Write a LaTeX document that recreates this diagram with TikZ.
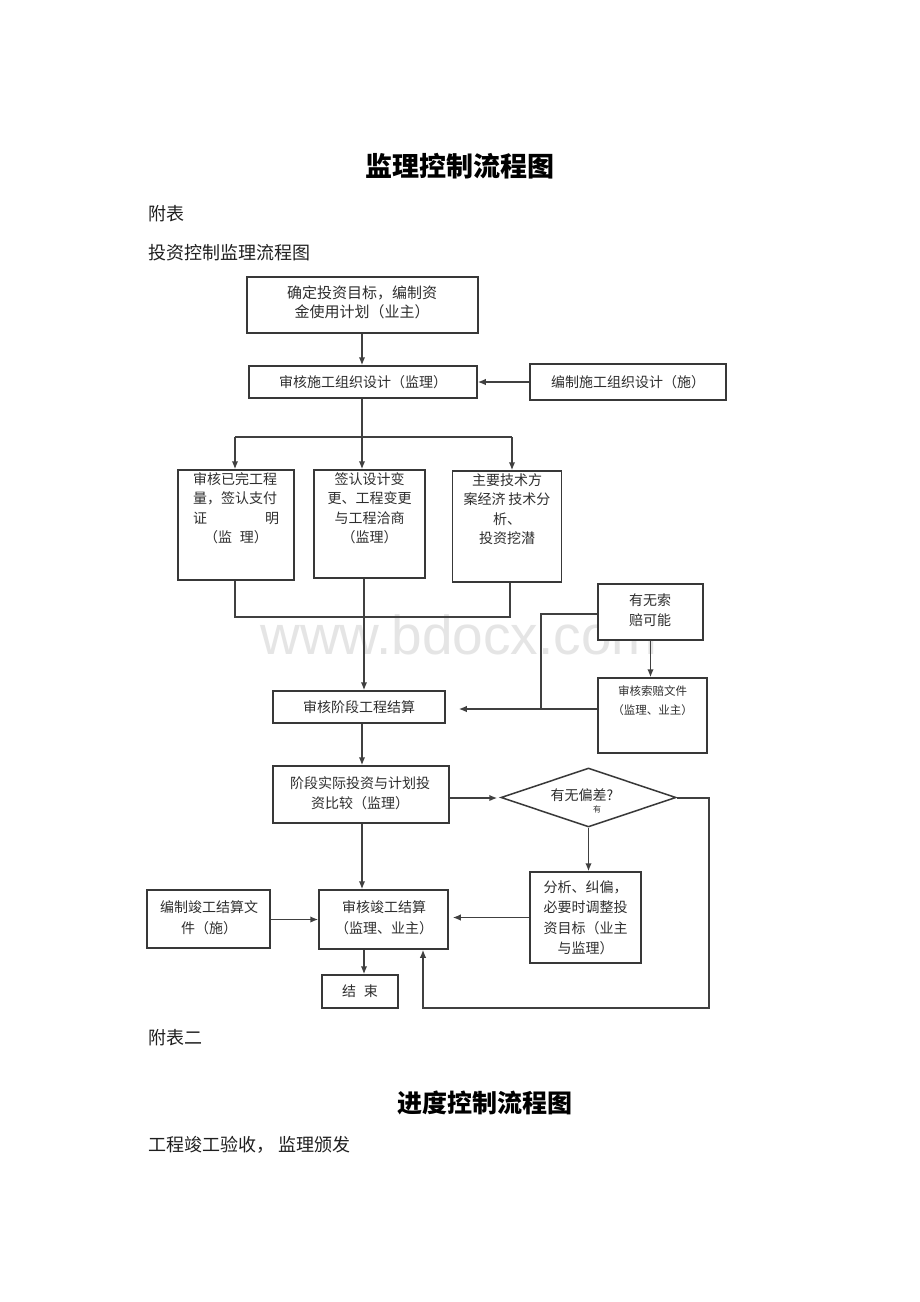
\documentclass[tikz,border=0pt]{standalone}
\usepackage{fontspec}
\setmainfont{Noto Sans CJK SC}
\newfontfamily\wmfont{Liberation Sans}
\usetikzlibrary{arrows.meta,shapes.geometric}
\tikzset{
  box/.style={draw=black!78, line width=1.5pt, inner sep=0pt, fill=white},
  txt/.style={text=black!82, inner sep=0pt, align=center, font=\fontsize{14}{19.5}\selectfont},
  ln/.style={draw=black!75, line width=1.5pt},
  arr/.style={ln, -{Latex[length=8pt,width=6.5pt]}},
  plain/.style={inner sep=0pt, anchor=west, text=black!88, font=\fontsize{18}{22}\selectfont},
  ttl/.style={inner sep=0pt, text=black, font=\fontsize{27}{30}\selectfont\bfseries}
}
\begin{document}
\begin{tikzpicture}[x=1pt,y=-1pt]
\useasboundingbox (0,0) rectangle (920,1302);
\fill[white] (0,0) rectangle (920,1302);

% page texts
\node[ttl] (t1) at (460,166) {监理控制流程图};
\node[plain] (p1) at (148,214) {附表};
\node[plain] (p2) at (148,253) {投资控制监理流程图};
\node[plain] (p3) at (148,1038) {附表二};
\node[ttl, font=\fontsize{25}{28}\selectfont\bfseries] (t2) at (485,1103) {进度控制流程图};
\node[plain] (p4) at (148,1145) {工程竣工验收，\hspace{4pt}监理颁发};

% watermark
\node[inner sep=0pt, text=black!10, font=\wmfont\fontsize{55}{60}\selectfont] (wm) at (459,635) {www.bdocx.com};

% boxes
\node[box, minimum width=231pt, minimum height=56pt] (b1) at (362.5,305) {};
\node[txt, font=\fontsize{15}{19}\selectfont] (b1t) at (362,302) {确定投资目标，编制资\\金使用计划（业主）};

\node[box, minimum width=228pt, minimum height=32pt, txt] (b2) at (363,382) {审核施工组织设计（监理）};
\node[box, minimum width=196pt, minimum height=36pt, txt] (b3) at (628,382) {编制施工组织设计（施）};

\node[box, minimum width=116pt, minimum height=110pt] (b4) at (236,525) {};
\node[txt, anchor=north] (b4t) at ([yshift=-3pt]b4.north) {\makebox[86pt][l]{审核已完工程}\\\makebox[86pt][l]{量，签认支付}\\\makebox[86pt][s]{证\hfill 明}\\（监\hspace{8pt}理）};

\node[box, minimum width=111pt, minimum height=108pt] (b5) at (369.5,524) {};
\node[txt, anchor=north] (b5t) at ([yshift=-3pt]b5.north) {签认设计变\\更、工程变更\\与工程洽商\\（监理）};

\node[box, minimum width=109pt, minimum height=111pt] (b6) at (507,526.5) {};
\node[txt, anchor=north] (b6t) at ([yshift=-3pt]b6.north) {主要技术方\\案经济\hspace{3pt}技术分\\析、\\投资挖潜};

\node[box, minimum width=172pt, minimum height=32pt, txt] (b7) at (359,707) {审核阶段工程结算};

\node[box, minimum width=105pt, minimum height=56pt] (b8) at (650.5,612) {};
\node[txt] (b8t) at (650,610) {有无索\\赔可能};

\node[box, minimum width=109pt, minimum height=75pt] (b9) at (652.5,715.5) {};
\node[txt, anchor=north, font=\fontsize{11.5}{19}\selectfont] (b9t) at ([yshift=-8pt]b9.north) {审核索赔文件\\（监理、业主）};

\node[box, minimum width=176pt, minimum height=57pt] (b10) at (361,794.5) {};
\node[txt] (b10t) at (360,793) {阶段实际投资与计划投\\资比较（监理）};

\node[draw=black!78, line width=1.5pt, diamond, aspect=3, minimum width=175pt, minimum height=59pt, inner sep=0pt, fill=white] (d) at (588.5,797.5) {};
\node[txt] (dt) at (582,795) {有无偏差?};
\node[txt, font=\fontsize{8}{9}\selectfont] (dt2) at (597,809) {有};

\node[box, minimum width=111pt, minimum height=91pt] (b12) at (585.5,917.5) {};
\node[txt, font=\fontsize{14}{20.5}\selectfont] (b12t) at (585.5,918) {分析、纠偏，\\必要时调整投\\资目标（业主\\与监理）};

\node[box, minimum width=129pt, minimum height=59pt] (b11) at (383.5,919.5) {};
\node[txt, font=\fontsize{14}{21}\selectfont] (b11t) at (384,918) {审核竣工结算\\（监理、业主）};

\node[box, minimum width=123pt, minimum height=58pt] (b13) at (208.5,919) {};
\node[txt, font=\fontsize{14}{21}\selectfont] (b13t) at (209,918) {编制竣工结算文\\件（施）};

\node[box, minimum width=76pt, minimum height=33pt, txt] (b14) at (360,991.5) {结\hspace{8pt}束};

% connectors
\coordinate (j1) at (362,437);
\coordinate (jL) at (235,437);
\coordinate (jR) at (512,437);
\coordinate (kL) at (235,617);
\coordinate (kR) at (510,617);
\coordinate (k5) at (364,650);
\coordinate (m1) at (541,614);
\coordinate (m2) at (541,709);
\coordinate (c7) at (362,740);
\coordinate (r1) at (709,798);
\coordinate (r2) at (709,1008);
\coordinate (r3) at (423,1008);
\coordinate (c11) at (364,960);

\draw[arr] (b1.south -| j1) -- (j1 |- b2.north);
\draw[arr] (b3.west) -- (b2.east);
\draw[ln] (b2.south -| j1) -- (j1);
\draw[ln] (jL) -- (jR);
\draw[arr] (jL) -- (jL |- b4.north);
\draw[arr] (j1) -- (j1 |- b5.north);
\draw[arr] (jR) -- (jR |- b6.north);
\draw[ln] (kL |- b4.south) -- (kL) -- (kR) -- (kR |- b6.south);
\draw[arr] (k5 |- b5.south) -- (k5 |- b7.north);
\draw[ln] (b8.west |- m1) -- (m1) -- (m2);
\draw[arr] (b9.west |- m2) -- ([xshift=13pt]b7.east |- m2);
\draw[arr] (b8.south) -- (b8.south |- b9.north);
\draw[arr] (c7 |- b7.south) -- (c7 |- b10.north);
\draw[arr] (b10.east |- r1) -- ([xshift=-3pt]d.west |- r1);
\draw[arr] (d.east |- r1) -- (r1) -- (r2) -- (r3) -- (r3 |- b11.south);
\draw[arr] (d.south) -- (d.south |- b12.north);
\draw[arr] (b12.west) -- ([xshift=4pt]b11.east |- b12.west);
\draw[arr] (b13.east |- b11.west) -- (b11.west);
\draw[arr] (b10.south -| j1) -- (j1 |- b11.north);
\draw[arr] (c11 |- b11.south) -- (c11 |- b14.north);
\end{tikzpicture}
\end{document}
